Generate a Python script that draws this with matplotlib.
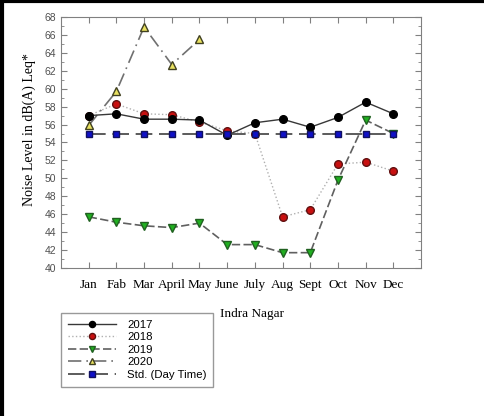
import matplotlib
matplotlib.use('Agg')
import matplotlib.pyplot as plt
from matplotlib.ticker import MultipleLocator

MONTHS = ['Jan', 'Fab', 'Mar', 'April', 'May', 'June', 'July', 'Aug', 'Sept', 'Oct', 'Nov', 'Dec']
Y2017 = [57.0, 57.2, 56.6, 56.6, 56.5, 54.8, 56.2, 56.6, 55.7, 56.8, 58.5, 57.2]
Y2018 = [57.0, 58.3, 57.2, 57.1, 56.3, 55.3, 55.0, 45.7, 46.5, 51.6, 51.8, 50.8]
Y2019 = [45.7, 45.1, 44.7, 44.5, 45.0, 42.6, 42.6, 41.7, 41.7, 49.8, 56.5, 55.0]
Y2020 = [55.9, 59.7, 66.9, 62.7, 65.5]
STD = [55] * 12

fig = plt.figure(figsize=(4.84, 4.16), dpi=100)
ax = fig.add_axes([0.126, 0.356, 0.744, 0.603])

x = list(range(len(MONTHS)))
ax.plot(x, Y2017, '-', color='#383838', lw=1.0, marker='o', ms=5.5,
        mfc='black', mec='black', label='2017', zorder=4)
ax.plot(x, Y2018, ':', color='#b0b0b0', lw=1.0, marker='o', ms=5.5,
        mfc='#c81010', mec='#601010', label='2018', zorder=3)
ax.plot(x, Y2019, '--', color='#606060', lw=1.2, dashes=(5, 2), marker='v', ms=5.5,
        mfc='#20b020', mec='#206020', label='2019', zorder=3)
ax.plot(x[:len(Y2020)], Y2020, color='#707070', lw=1.2, dashes=(8, 3, 1, 3),
        marker='^', ms=5.5, mfc='#e8e060', mec='#404020', label='2020', zorder=3)
ax.plot(x, STD, color='#404040', lw=1.2, dashes=(10, 4), marker='s', ms=5,
        mfc='#1010c8', mec='#101060', label='Std. (Day Time)', zorder=5)

ax.set_xlim(-1, 12)
ax.set_ylim(40, 68)
ax.set_xticks(x)
ax.set_xticklabels(MONTHS, family='Liberation Serif', fontsize=9.5)
ax.yaxis.set_major_locator(MultipleLocator(2))
ax.yaxis.set_minor_locator(MultipleLocator(1))
for lab in ax.get_yticklabels():
    lab.set_family('Liberation Sans')
    lab.set_fontsize(7.5)
    lab.set_color('#505050')
ax.tick_params(which='both', direction='in', top=True, right=True, color='#808080')
ax.tick_params(which='major', length=4)
ax.tick_params(which='minor', length=2)
ax.tick_params(axis='x', pad=8)
for s in ax.spines.values():
    s.set_color('#808080')

ax.set_ylabel('Noise Level in dB(A) Leq*', family='Liberation Serif', fontsize=10)
ax.yaxis.set_label_coords(-0.07, 0.55)
fig.text(0.52, 0.245, 'Indra Nagar', family='Liberation Serif', fontsize=9.5,
         ha='center', va='center')

leg = fig.legend(loc='upper left', bbox_to_anchor=(0.126, 0.248), frameon=True,
                 fancybox=False, prop={'family': 'Liberation Sans', 'size': 8.2},
                 handlelength=4.2, labelspacing=0.22, borderpad=0.6,
                 borderaxespad=0, markerscale=0.8, handletextpad=1.0)
leg.get_frame().set_edgecolor('#808080')
leg.get_frame().set_linewidth(1.0)

# frame on top and left edges of the picture
fig.add_artist(plt.Line2D([0, 1], [0.997, 0.997], color='black', lw=3,
                          transform=fig.transFigure))
fig.add_artist(plt.Line2D([0.004, 0.004], [0, 1], color='black', lw=3,
                          transform=fig.transFigure))

fig.savefig('out.png', dpi=100)
